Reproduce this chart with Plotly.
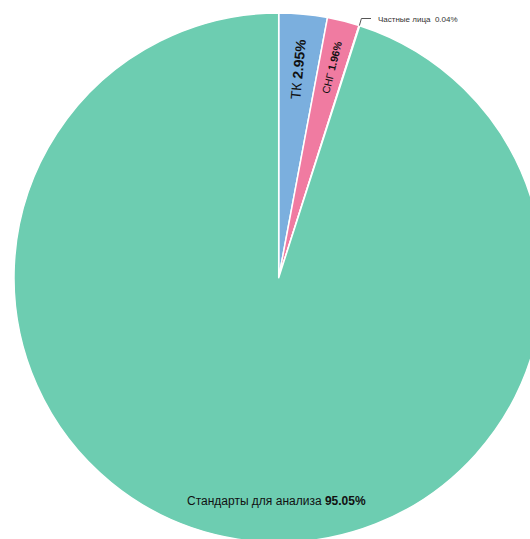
import math
import plotly.graph_objects as go

labels = ["ТК", "СНГ", "Частные лица", "Стандарты для анализа"]
values = [2.95, 1.96, 0.04, 95.05]
colors = ["#7bafde", "#f07ba1", "#6dcdb1", "#6dcdb1"]

W, H = 560, 560
cx, cy, r = 278.7, 277.7, 264.7

dom_x = [(cx - r) / W, (cx + r) / W]
dom_y = [1 - (cy + r) / H, 1 - (cy - r) / H]

tpl = ["%{label} <b>%{value:.2f}%</b>", "%{label} <b>%{value:.2f}%</b>", "", ""]

fig = go.Figure()
fig.add_trace(go.Pie(
    labels=labels, values=values, sort=False, direction="clockwise", rotation=0,
    marker=dict(colors=colors, line=dict(color="white", width=1.5)),
    texttemplate=tpl,
    textposition=["inside", "inside", "none", "none"],
    insidetextorientation="radial",
    insidetextfont=dict(family="Liberation Sans, Arial", size=[14, 10.5, 10, 10], color="#111"),
    domain=dict(x=dom_x, y=dom_y),
    hoverinfo="skip", showlegend=False,
))

# label for the tiny slice with an elbow leader line
total = sum(values)
mid = (sum(values[:2]) + values[2] / 2) / total * 2 * math.pi
ex = cx + r * math.sin(mid)
ey = cy - r * math.cos(mid)
fig.add_shape(
    type="path", xref="paper", yref="paper",
    path=f"M {ex/W},{1-ey/H} L {(ex+2)/W},{1-18.5/H} L {371/W},{1-18.5/H}",
    line=dict(color="#555", width=1),
)
fig.add_annotation(
    x=376 / W, y=1 - 20 / H, xref="paper", yref="paper",
    xanchor="left", yanchor="middle", showarrow=False,
    text=f"{labels[2]}  {values[2]:.2f}%",
    font=dict(family="Liberation Sans, Arial", size=8, color="#333"),
)
# label for the big slice
fig.add_annotation(
    x=(cx - 2.7) / W, y=1 - (cy + 0.845 * r) / H, xref="paper", yref="paper",
    xanchor="center", yanchor="middle", showarrow=False,
    text=f"{labels[3]} <b>{values[3]:.2f}%</b>",
    font=dict(family="Liberation Sans, Arial", size=12, color="#111"),
)

fig.update_layout(
    width=W, height=H, margin=dict(l=0, r=0, t=0, b=0),
    paper_bgcolor="white", plot_bgcolor="white",
)
fig.write_html(
    "out.html",
    config={"displayModeBar": False},
    post_script="document.body.style.margin='0';document.body.style.overflow='hidden';document.documentElement.style.overflow='hidden';",
)
